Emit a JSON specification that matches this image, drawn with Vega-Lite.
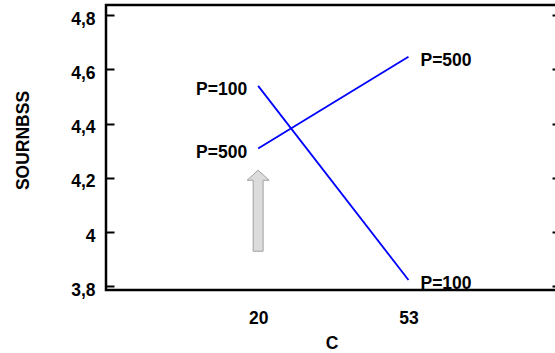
{
  "$schema": "https://vega.github.io/schema/vega-lite/v6.json",
  "autosize": {"type": "none"},
  "width": 451,
  "height": 285,
  "padding": {"left": 106, "top": 5, "right": -2, "bottom": 63},
  "background": "white",
  "config": {
    "font": "Liberation Sans",
    "view": {"stroke": "black", "strokeWidth": 2.5},
    "axis": {"labelFont": "Liberation Sans", "labelFontWeight": "bold", "labelFontSize": 17.5, "labelColor": "black", "titleFont": "Liberation Sans", "titleFontWeight": "bold", "titleFontSize": 17.5, "titleColor": "black", "grid": false, "domain": false}
  },
  "datasets": {
    "lines": [
      {"C": "20", "P": "P=100", "v": 4.539},
      {"C": "53", "P": "P=100", "v": 3.824},
      {"C": "20", "P": "P=500", "v": 4.308},
      {"C": "53", "P": "P=500", "v": 4.646}
    ],
    "arrow": [{"C": "20", "v": 4.079}]
  },
  "layer": [
    {
      "data": {"name": "lines"},
      "mark": {"type": "line", "color": "#0000ff", "strokeWidth": 1.8},
      "encoding": {
        "x": {"field": "C", "type": "ordinal", "sort": ["20", "53"],
              "scale": {"type": "point", "domain": ["20", "53"], "padding": 1.0825, "align": 0.506},
              "axis": {"orient": "bottom", "ticks": false, "labelAngle": 0, "labelPadding": 19, "title": "C", "titleY": 53, "titleBaseline": "middle"}},
        "y": {"field": "v", "type": "quantitative",
              "scale": {"domain": [3.787, 4.837], "nice": false, "zero": false},
              "axis": {"orient": "left", "values": [3.8, 4, 4.2, 4.4, 4.6, 4.8], "labelExpr": "replace(format(datum.value, '.1~f'), '.', ',')", "tickSize": -8, "tickWidth": 2, "tickColor": "black", "labelPadding": 19, "labelOffset": 4, "title": "SOURNBSS", "titleAngle": -90, "titleX": -83, "titleY": 135, "titleAlign": "center", "titleBaseline": "middle"}},
        "detail": {"field": "P"}
      }
    },
    {
      "data": {"name": "lines"},
      "mark": {"type": "rule", "opacity": 0},
      "encoding": {
        "y": {"field": "v", "type": "quantitative",
              "axis": {"orient": "right", "values": [3.8, 4, 4.2, 4.4, 4.6, 4.8], "labels": false, "tickSize": -5, "tickWidth": 2, "tickColor": "black", "title": null}}
      }
    },
    {
      "data": {"name": "arrow"},
      "mark": {"type": "point", "filled": true, "fill": "#dcdcdc", "stroke": "#a0a0a0", "strokeWidth": 1, "opacity": 1,
               "shape": "M-0.123,1L-0.123,-0.753L-0.272,-0.753L0,-1L0.272,-0.753L0.123,-0.753L0.123,1Z", "size": 6561},
      "encoding": {
        "x": {"field": "C", "type": "ordinal"},
        "y": {"field": "v", "type": "quantitative", "axis": null}
      }
    },
    {
      "data": {"name": "lines"},
      "transform": [{"filter": "datum.C === '20'"}],
      "mark": {"type": "text", "align": "right", "baseline": "middle", "dx": -11, "dy": 4.5, "fontSize": 17.5, "fontWeight": "bold", "font": "Liberation Sans", "color": "black"},
      "encoding": {
        "x": {"field": "C", "type": "ordinal"},
        "y": {"field": "v", "type": "quantitative", "axis": null},
        "text": {"field": "P"}
      }
    },
    {
      "data": {"name": "lines"},
      "transform": [{"filter": "datum.C === '53'"}],
      "mark": {"type": "text", "align": "left", "baseline": "middle", "dx": 12, "dy": 4.5, "fontSize": 17.5, "fontWeight": "bold", "font": "Liberation Sans", "color": "black"},
      "encoding": {
        "x": {"field": "C", "type": "ordinal"},
        "y": {"field": "v", "type": "quantitative", "axis": null},
        "text": {"field": "P"}
      }
    }
  ],
  "resolve": {"axis": {"y": "independent"}}
}
